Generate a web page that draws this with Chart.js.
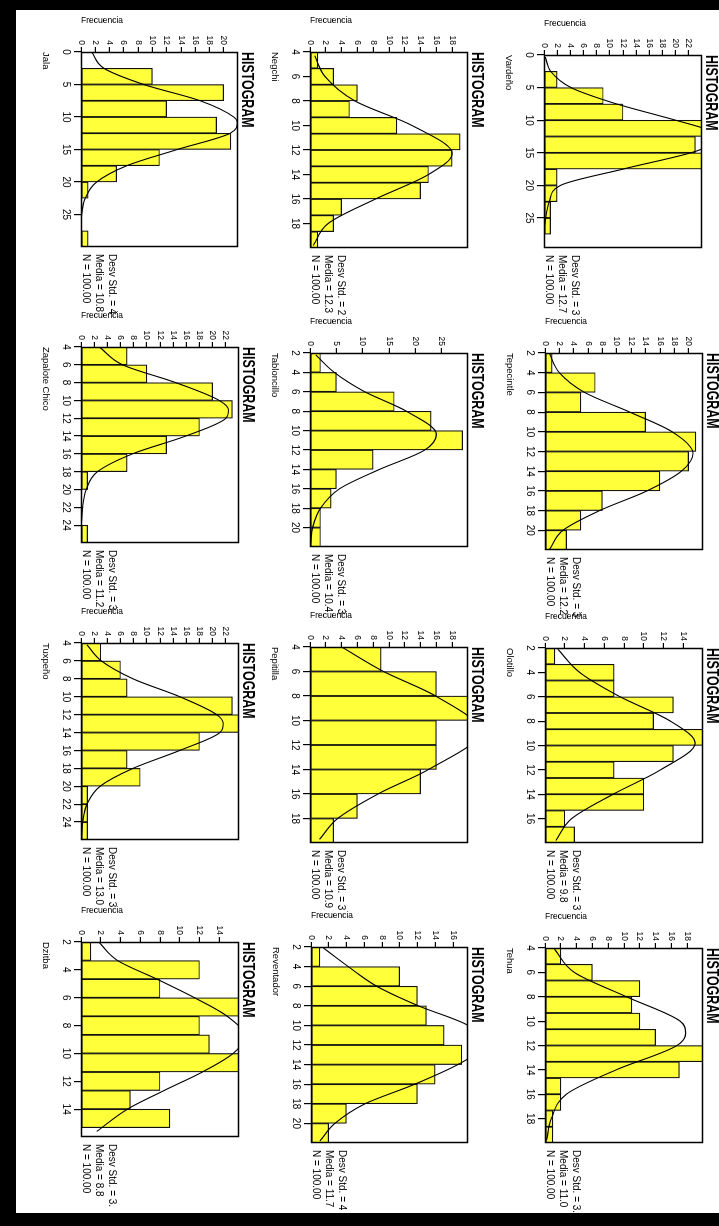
<!DOCTYPE html>
<html>
<head>
<meta charset="utf-8">
<script src="https://cdn.jsdelivr.net/npm/chart.js@4.4.1/dist/chart.umd.min.js"></script>
<style>
html, body { margin:0; padding:0; background:#fff; width:719px; height:1226px; overflow:hidden; }
#sheet { position:absolute; left:0; top:0; width:1226px; height:719px; transform-origin:0 0; transform:translateX(719px) rotate(90deg); }
#sheet canvas { position:absolute; }
.band { position:absolute; background:#000; }
</style>
</head>
<body>
<div id="sheet"></div>
<div class="band" style="left:0;top:0;width:719px;height:10px"></div>
<div class="band" style="left:0;top:1213px;width:719px;height:13px"></div>
<div class="band" style="left:0;top:0;width:16px;height:1226px"></div>
<script>
const FONT = '"Liberation Sans", Arial, sans-serif';

const varietyNames = ['Vardeño','Tepecintle','Olotillo','Tehua','Negchi','Tabloncillo','Pepitilla','Reventador','Jala','Zapalote Chico','Tuxpeño','Dzitba'];
const stdLabels = ['Desv Std. = 3','Desv Std. = 3','Desv Std. = 3','Desv Std. = 3.','Desv Std. = 2','Desv Std. = 3','Desv Std. = 3','Desv Std. = 4','Desv Std. = 4','Desv Std. = 3.','Desv Std. = 3','Desv Std. = 3.'];
const meanLabels = ['Media = 12.7','Media = 12.2','Media = 9.8','Media = 11.0','Media = 12.3','Media = 10.4','Media = 10.9','Media = 11.7','Media = 10.8','Media = 11.2','Media = 13.0','Media = 8.8'];
const countLabel = 'N = 100.00';
const axisLabel = 'Frecuencia';
const chartHeading = 'HISTOGRAM';

// ---- Vardeño
const vardenoBins   = [3.75, 6.25, 8.75, 11.25, 13.75, 16.25, 18.75, 21.25, 23.75, 26.25];
const vardenoCounts = [2, 9, 12, 24, 23, 24, 2, 2, 1, 1];
const vardenoCurveX = [0.3, 2.5, 5, 7.5, 10, 11.5, 12.7, 14, 15, 17.5, 20, 22.5, 25, 26.5];
const vardenoCurveY = [0.2, 1.0, 4.1, 11, 20, 25, 27, 25, 22.3, 12, 2.5, 0.8, 0.25, 0.05];
const vardenoXTicks = [0, 5, 10, 15, 20, 25];
const vardenoYTicks = [0, 2, 4, 6, 8, 10, 12, 14, 16, 18, 20, 22];
const vardenoRange  = [0, 29.6, 24];

// ---- Tepecintle
const tepecintleBins   = [3, 5, 7, 9, 11, 13, 15, 17, 19, 21];
const tepecintleCounts = [1, 7, 5, 14, 21, 20, 16, 8, 5, 3];
const tepecintleCurveX = [2, 4, 6, 8, 10, 12.2, 14, 16, 18, 20, 22];
const tepecintleCurveY = [0.6, 2, 5.5, 11.8, 17.7, 20.6, 19, 14.2, 7.6, 2.5, 0.6];
const tepecintleXTicks = [2, 4, 6, 8, 10, 12, 14, 16, 18, 20];
const tepecintleYTicks = [0, 2, 4, 6, 8, 10, 12, 14, 16, 18, 20];
const tepecintleRange  = [2, 22, 22];

// ---- Olotillo
const olotilloBins   = [2.667, 4, 5.333, 6.667, 8, 9.333, 10.667, 12, 13.333, 14.667, 16, 17.333];
const olotilloCounts = [1, 7, 7, 13, 11, 16, 13, 7, 10, 10, 2, 3];
const olotilloCurveX = [2.1, 4, 6, 8, 9.8, 12, 14, 16, 17.8];
const olotilloCurveY = [1.3, 3.5, 7.6, 12.7, 15.2, 11.7, 6.9, 2.7, 1.1];
const olotilloXTicks = [2, 4, 6, 8, 10, 12, 14, 16];
const olotilloYTicks = [0, 2, 4, 6, 8, 10, 12, 14];
const olotilloRange  = [2, 18, 16];

// ---- Tehua
const tehuaBins   = [4.667, 6, 7.333, 8.667, 10, 11.333, 12.667, 14, 15.333, 16.667, 18, 19.333];
const tehuaCounts = [2, 6, 12, 11, 12, 14, 20, 17, 2, 2, 1, 1];
const tehuaCurveX = [4.1, 6, 8, 10, 11, 12, 14, 16, 18, 19.8];
const tehuaCurveY = [1.2, 3.7, 10.3, 17.1, 17.8, 16.7, 9, 2.7, 0.8, 0.2];
const tehuaXTicks = [4, 6, 8, 10, 12, 14, 16, 18];
const tehuaYTicks = [0, 2, 4, 6, 8, 10, 12, 14, 16, 18];
const tehuaRange  = [4, 20, 20];

// ---- Negchi
const negchiBins   = [4.667, 6, 7.333, 8.667, 10, 11.333, 12.667, 14, 15.333, 16.667, 18, 19.333];
const negchiCounts = [1, 3, 6, 5, 11, 19, 18, 15, 14, 4, 3, 1];
const negchiCurveX = [4.3, 6, 8, 10, 12.3, 14, 16, 18, 19.8];
const negchiCurveY = [0.6, 1.9, 5.7, 12.9, 18, 15, 8.3, 2.3, 0.4];
const negchiXTicks = [4, 6, 8, 10, 12, 14, 16, 18];
const negchiYTicks = [0, 2, 4, 6, 8, 10, 12, 14, 16, 18];
const negchiRange  = [4, 20, 20];

// ---- Tabloncillo
const tabloncilloBins   = [3, 5, 7, 9, 11, 13, 15, 17, 19, 21];
const tabloncilloCounts = [2, 5, 16, 23, 29, 12, 5, 4, 2, 2];
const tabloncilloCurveX = [2.2, 4, 6, 8, 10.4, 12, 14, 16, 18, 20, 21.8];
const tabloncilloCurveY = [1.1, 4.6, 10.4, 18.3, 24, 21.8, 13.2, 5.6, 2, 0.5, 0.1];
const tabloncilloXTicks = [2, 4, 6, 8, 10, 12, 14, 16, 18, 20];
const tabloncilloYTicks = [0, 5, 10, 15, 20, 25];
const tabloncilloRange  = [2, 22, 30];

// ---- Pepitilla
const pepitillaBins   = [5, 7, 9, 11, 13, 15, 17, 19];
const pepitillaCounts = [9, 16, 20, 16, 16, 14, 6, 3];
const pepitillaCurveX = [4, 6, 8, 10.9, 14, 16, 18, 19.7];
const pepitillaCurveY = [4, 9.3, 15.9, 21.5, 15, 8.6, 3.5, 1.2];
const pepitillaXTicks = [4, 6, 8, 10, 12, 14, 16, 18];
const pepitillaYTicks = [0, 2, 4, 6, 8, 10, 12, 14, 16, 18];
const pepitillaRange  = [4, 20, 20];

// ---- Reventador
const reventadorBins   = [3, 5, 7, 9, 11, 13, 15, 17, 19, 21];
const reventadorCounts = [1, 10, 12, 13, 15, 17, 14, 12, 4, 2];
const reventadorCurveX = [2.1, 4, 6, 8, 10, 11.7, 13.4, 16, 18, 20, 21.8];
const reventadorCurveY = [1.4, 4.2, 7.4, 12.1, 17.7, 19.3, 17.7, 11.7, 6.1, 2.7, 1];
const reventadorXTicks = [2, 4, 6, 8, 10, 12, 14, 16, 18, 20];
const reventadorYTicks = [0, 2, 4, 6, 8, 10, 12, 14, 16];
const reventadorRange  = [2, 22, 17.7];

// ---- Jala
const jalaBins   = [1.25, 3.75, 6.25, 8.75, 11.25, 13.75, 16.25, 18.75, 21.25, 23.75, 26.25, 28.75];
const jalaCounts = [0, 10, 20, 12, 19, 21, 11, 5, 1, 0, 0, 1];
const jalaCurveX = [0, 2.5, 5, 7.5, 10, 10.8, 12.5, 15, 17.5, 20, 22.5, 25, 27.5];
const jalaCurveY = [1.5, 3.2, 8.8, 16.7, 21.4, 21.9, 20.9, 13.5, 6.4, 2.2, 0.6, 0.1, 0.02];
const jalaXTicks = [0, 5, 10, 15, 20, 25];
const jalaYTicks = [0, 2, 4, 6, 8, 10, 12, 14, 16, 18, 20];
const jalaRange  = [0, 30, 22];

// ---- Zapalote Chico
const zapaloteBins   = [5, 7, 9, 11, 13, 15, 17, 19, 21, 23, 25];
const zapaloteCounts = [7, 10, 20, 23, 18, 13, 7, 1, 0, 0, 1];
const zapaloteCurveX = [4, 6, 8, 10, 11.1, 12, 14, 16, 18, 20, 22, 24];
const zapaloteCurveY = [2.8, 6.3, 14.4, 21, 22.4, 22, 15.9, 7.8, 2.5, 0.8, 0.25, 0.05];
const zapaloteXTicks = [4, 6, 8, 10, 12, 14, 16, 18, 20, 22, 24];
const zapaloteYTicks = [0, 2, 4, 6, 8, 10, 12, 14, 16, 18, 20, 22];
const zapaloteRange  = [4, 26, 24];

// ---- Tuxpeño
const tuxpenoBins   = [5, 7, 9, 11, 13, 15, 17, 19, 21, 23, 25];
const tuxpenoCounts = [3, 6, 7, 23, 24, 18, 7, 9, 1, 1, 1];
const tuxpenoCurveX = [4.2, 6, 8, 10, 12, 13, 14, 16, 18, 20, 22, 24, 25.8];
const tuxpenoCurveY = [0.9, 3.1, 7.9, 15, 20.6, 21.6, 21.1, 15, 7.9, 2.9, 0.9, 0.25, 0.05];
const tuxpenoXTicks = [4, 6, 8, 10, 12, 14, 16, 18, 20, 22, 24];
const tuxpenoYTicks = [0, 2, 4, 6, 8, 10, 12, 14, 16, 18, 20, 22];
const tuxpenoRange  = [4, 26, 24];

// ---- Dzitba
const dzitbaBins   = [2.667, 4, 5.333, 6.667, 8, 9.333, 10.667, 12, 13.333, 14.667];
const dzitbaCounts = [1, 12, 8, 16, 12, 13, 16, 8, 5, 9];
const dzitbaCurveX = [2, 3.33, 4.67, 6, 7.33, 8.8, 10, 11.33, 12.67, 14, 15.6];
const dzitbaCurveY = [1.8, 3.7, 7.7, 11.5, 14.8, 16.6, 15.4, 12.3, 8.4, 4.7, 1.6];
const dzitbaXTicks = [2, 4, 6, 8, 10, 12, 14];
const dzitbaYTicks = [0, 2, 4, 6, 8, 10, 12, 14];
const dzitbaRange  = [2, 16, 16];

const series = [
  [vardenoBins, vardenoCounts, vardenoCurveX, vardenoCurveY, vardenoXTicks, vardenoYTicks, vardenoRange],
  [tepecintleBins, tepecintleCounts, tepecintleCurveX, tepecintleCurveY, tepecintleXTicks, tepecintleYTicks, tepecintleRange],
  [olotilloBins, olotilloCounts, olotilloCurveX, olotilloCurveY, olotilloXTicks, olotilloYTicks, olotilloRange],
  [tehuaBins, tehuaCounts, tehuaCurveX, tehuaCurveY, tehuaXTicks, tehuaYTicks, tehuaRange],
  [negchiBins, negchiCounts, negchiCurveX, negchiCurveY, negchiXTicks, negchiYTicks, negchiRange],
  [tabloncilloBins, tabloncilloCounts, tabloncilloCurveX, tabloncilloCurveY, tabloncilloXTicks, tabloncilloYTicks, tabloncilloRange],
  [pepitillaBins, pepitillaCounts, pepitillaCurveX, pepitillaCurveY, pepitillaXTicks, pepitillaYTicks, pepitillaRange],
  [reventadorBins, reventadorCounts, reventadorCurveX, reventadorCurveY, reventadorXTicks, reventadorYTicks, reventadorRange],
  [jalaBins, jalaCounts, jalaCurveX, jalaCurveY, jalaXTicks, jalaYTicks, jalaRange],
  [zapaloteBins, zapaloteCounts, zapaloteCurveX, zapaloteCurveY, zapaloteXTicks, zapaloteYTicks, zapaloteRange],
  [tuxpenoBins, tuxpenoCounts, tuxpenoCurveX, tuxpenoCurveY, tuxpenoXTicks, tuxpenoYTicks, tuxpenoRange],
  [dzitbaBins, dzitbaCounts, dzitbaCurveX, dzitbaCurveY, dzitbaXTicks, dzitbaYTicks, dzitbaRange]
];

// ---- layout (unrotated sheet coordinates: plot frame left, top, width, height)
const frames = [
  [55, 17, 193, 158], [353, 16, 197, 158], [648, 16, 195, 158], [948, 16, 195, 158],
  [52, 251, 196, 158], [353, 251, 194, 158], [647, 251, 196, 158], [947, 251, 196, 157],
  [52, 481, 195, 157], [347, 480, 196, 158], [643, 480, 197, 158], [942, 480, 195, 158]
];
const PL = 48, PT = 20, PR = 84, PB = 50;

const decor = {
  id: 'decor',
  afterDraw(chart, args, opts) {
    const ctx = chart.ctx, a = chart.chartArea, i = opts.index;
    ctx.save();
    ctx.fillStyle = '#000';
    ctx.strokeStyle = '#000';
    ctx.lineWidth = 1.5;
    ctx.strokeRect(a.left + 0.5, a.top + 0.5, a.right - a.left - 1, a.bottom - a.top - 1);
    ctx.textAlign = 'left';
    ctx.textBaseline = 'alphabetic';
    ctx.save();
    ctx.font = 'bold 17px ' + FONT;
    ctx.translate(a.left, a.top - 4);
    ctx.scale(0.73, 1);
    ctx.fillText(chartHeading, 0, 0);
    ctx.restore();
    ctx.save();
    ctx.font = '8.5px ' + FONT;
    ctx.translate(a.left - 29, a.bottom);
    ctx.rotate(-Math.PI / 2);
    ctx.fillText(axisLabel, 0, 0);
    ctx.restore();
    ctx.font = '9.5px ' + FONT;
    ctx.fillText(varietyNames[i], a.left, a.bottom + 38);
    ctx.font = '10px ' + FONT;
    ctx.fillText(stdLabels[i], a.right + 7, a.bottom - 28.5);
    ctx.fillText(meanLabels[i], a.right + 7, a.bottom - 15.5);
    ctx.fillText(countLabel, a.right + 7, a.bottom - 2);
    ctx.restore();
  }
};

const sheet = document.getElementById('sheet');
series.forEach((s, i) => {
  const [bins, counts, cx, cy, xt, yt, rng] = s;
  const [fx, fy, fw, fh] = frames[i];
  const cv = document.createElement('canvas');
  cv.width = fw + PL + PR;
  cv.height = fh + PT + PB;
  cv.style.left = (fx - PL) + 'px';
  cv.style.top = (fy - PT) + 'px';
  cv.style.width = cv.width + 'px';
  cv.style.height = cv.height + 'px';
  sheet.appendChild(cv);
  new Chart(cv, {
    type: 'bar',
    data: {
      datasets: [
        { type: 'line', data: cx.map((x, k) => ({ x: x, y: cy[k] })), borderColor: '#000', borderWidth: 1.1,
          pointRadius: 0, cubicInterpolationMode: 'monotone', clip: 0, order: 0, fill: false },
        { type: 'bar', data: bins.map((x, k) => ({ x: x, y: counts[k] })), backgroundColor: '#ffff3a',
          borderColor: '#111', borderWidth: c => (c.raw && c.raw.y > 0) ? 1.2 : 0, borderSkipped: false,
          barPercentage: 1, categoryPercentage: 1, order: 1 }
      ]
    },
    options: {
      responsive: false, animation: false, devicePixelRatio: 1, events: [],
      layout: { padding: { left: 0, top: PT, right: PR, bottom: 0 } },
      plugins: { legend: { display: false }, tooltip: { enabled: false }, title: { display: false }, decor: { index: i } },
      scales: {
        x: {
          type: 'linear', min: rng[0], max: rng[1], offset: false,
          afterBuildTicks: sc => { sc.ticks = xt.map(v => ({ value: v })); },
          afterFit: sc => { sc.height = PB; },
          grid: { display: true, drawOnChartArea: false, drawTicks: true, tickLength: 7, lineWidth: 1.2, color: '#000', offset: false },
          border: { display: false },
          ticks: { autoSkip: false, maxRotation: 0, minRotation: 0, padding: 2, color: '#000', font: { family: FONT, size: 10 } }
        },
        y: {
          type: 'linear', min: 0, max: rng[2],
          afterBuildTicks: sc => { sc.ticks = yt.map(v => ({ value: v })); },
          afterFit: sc => { sc.width = PL; },
          grid: { display: true, drawOnChartArea: false, drawTicks: true, tickLength: 5, lineWidth: 1.2, color: '#000' },
          border: { display: false },
          ticks: { padding: 2, color: '#000', font: { family: FONT, size: 8.5 } }
        }
      }
    },
    plugins: [decor]
  });
});
</script>
</body>
</html>
